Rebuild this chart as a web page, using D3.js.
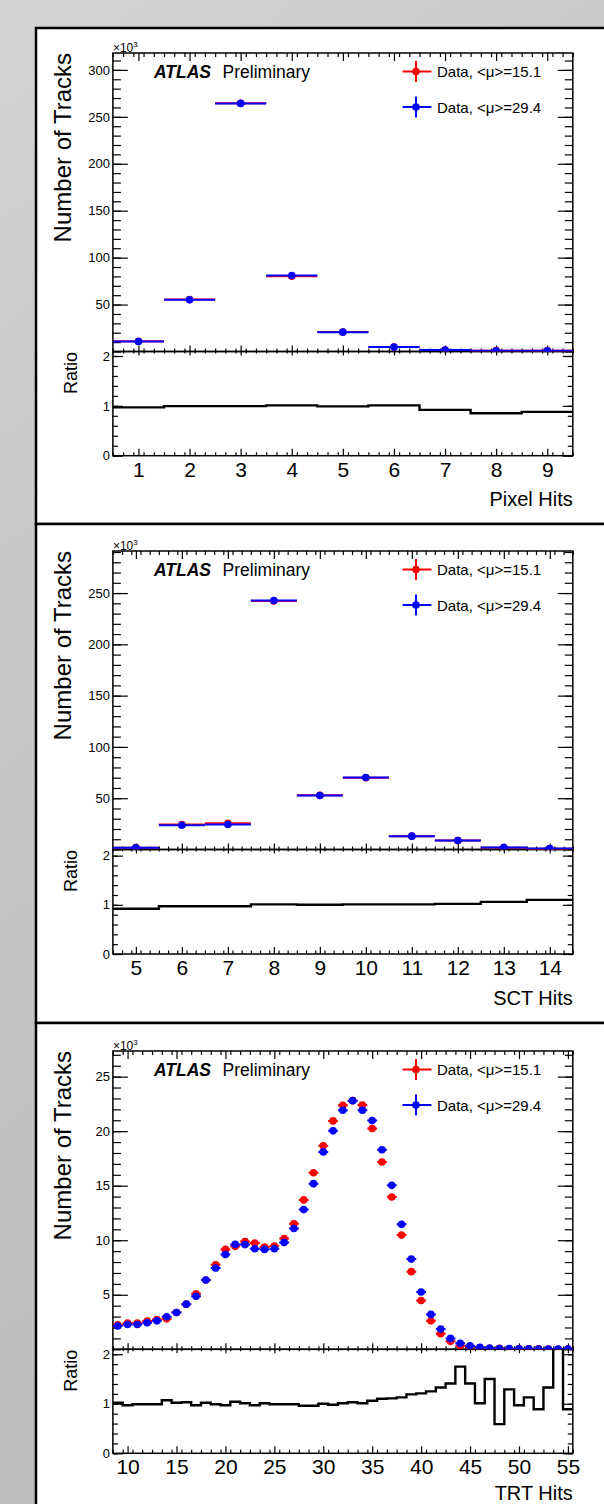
<!DOCTYPE html>
<html>
<head>
<meta charset="utf-8">
<script src="https://cdn.jsdelivr.net/npm/d3@7"></script>
<style>
  body { margin: 0; background: #c8c8c8; }
  svg { display: block; font-family: "Liberation Sans", Arial, Helvetica, sans-serif; }
</style>
</head>
<body>
<div id="container"></div>
<script>
/* DATA  (track counts in units of 10^3) */
const legendLabels = ["Data, <\u03bc>=15.1", "Data, <\u03bc>=29.4"];
const seriesColors = ["#ff0000", "#0000ff"];

const pixelHits   = [1, 2, 3, 4, 5, 6, 7, 8, 9];
const pixelLowMu  = [10.9, 55.3, 264.5, 80.2, 20.8, 4.7, 1.6, 0.9, 0.9];
const pixelHighMu = [10.6, 55.1, 264.3, 80.9, 20.6, 4.7, 1.5, 0.8, 0.8];
const pixelRatio  = [0.97, 0.995, 0.995, 1.01, 0.99, 1.01, 0.92, 0.85, 0.88];
const pixelYTicks = [50, 100, 150, 200, 250, 300];

const sctHits   = [5, 6, 7, 8, 9, 10, 11, 12, 13, 14];
const sctLowMu  = [1.8, 24.3, 25.6, 242.3, 52.8, 70.0, 13.0, 8.7, 1.8, 0.8];
const sctHighMu = [1.6, 23.7, 24.4, 242.7, 52.6, 70.2, 13.0, 8.8, 1.9, 0.9];
const sctRatio  = [0.92, 0.97, 0.97, 1.01, 1.0, 1.01, 1.01, 1.02, 1.06, 1.10];
const sctYTicks = [50, 100, 150, 200, 250];

const trtHits = [9, 10, 11, 12, 13, 14, 15, 16, 17, 18, 19, 20, 21, 22, 23, 24, 25, 26,
  27, 28, 29, 30, 31, 32, 33, 34, 35, 36, 37, 38, 39, 40, 41, 42, 43, 44, 45, 46, 47, 48,
  49, 50, 51, 52, 53, 54, 55];
const trtLowMu = [2.25, 2.41, 2.40, 2.60, 2.73, 2.79, 3.38, 4.14, 5.10, 6.36, 7.75, 9.16,
  9.44, 9.89, 9.74, 9.38, 9.47, 10.15, 11.5, 13.7, 16.19, 18.66, 20.94, 22.37, 22.8, 22.4,
  20.24, 17.17, 13.97, 10.47, 7.12, 4.47, 2.61, 1.43, 0.73, 0.33, 0.22, 0.14, 0.08, 0.10,
  0.05, 0.05, 0.035, 0.035, 0.022, 0.01, 0.022];
const trtHighMu = [2.13, 2.28, 2.28, 2.43, 2.61, 2.98, 3.38, 4.14, 4.87, 6.36, 7.45, 8.70,
  9.62, 9.60, 9.22, 9.16, 9.22, 9.80, 11.07, 12.81, 15.19, 18.1, 20.03, 21.92, 22.8, 21.92,
  20.97, 18.29, 15.03, 11.47, 8.27, 5.26, 3.20, 1.85, 1.00, 0.55, 0.32, 0.18, 0.12, 0.08,
  0.06, 0.05, 0.04, 0.03, 0.03, 0.02, 0.02];
const trtRatio = [1.02, 0.97, 0.99, 0.99, 0.99, 1.07, 1.02, 1.03, 0.97, 1.02, 0.99, 0.97,
  1.04, 1.01, 0.97, 1.01, 0.99, 0.99, 0.99, 0.96, 0.96, 1.0, 0.98, 1.01, 1.03, 1.01, 1.06,
  1.10, 1.11, 1.13, 1.19, 1.21, 1.25, 1.33, 1.41, 1.75, 1.41, 1.01, 1.5, 0.59, 1.29, 0.97,
  1.13, 0.89, 1.33, 2.5, 0.89];
const trtXTicks = [10, 15, 20, 25, 30, 35, 40, 45, 50, 55];
const trtYTicks = [5, 10, 15, 20, 25];

const ratioTicks = [0, 1, 2];

/* LAYOUT */
const width = 604, height = 1504;
const left = 112.9, right = 572.8;

const panels = [
  {x: pixelHits, low: pixelLowMu, high: pixelHighMu, ratio: pixelRatio, title: "Pixel Hits",
   xDomain: [0.5, 9.5], xMajor: pixelHits, xMinor: 0.2, yMax: 318, yMajor: pixelYTicks, yMinor: 10,
   rMax: 2.09, box: [28, 524], top: 53, split: 351.5, bottom: 455.7, titleY: 506},
  {x: sctHits, low: sctLowMu, high: sctHighMu, ratio: sctRatio, title: "SCT Hits",
   xDomain: [4.5, 14.5], xMajor: sctHits, xMinor: 0.2, yMax: 291, yMajor: sctYTicks, yMinor: 10,
   rMax: 2.125, box: [524, 1023], top: 551, split: 849.5, bottom: 954, titleY: 1005},
  {x: trtHits, low: trtLowMu, high: trtHighMu, ratio: trtRatio, title: "TRT Hits",
   xDomain: [8.5, 55.5], xMajor: trtXTicks, xMinor: 1, yMax: 27.35, yMajor: trtYTicks, yMinor: 1,
   rMax: 2.1, box: [1023, 1530], top: 1051, split: 1349.3, bottom: 1453.3, titleY: 1500}
];

const svg = d3.select("#container").append("svg")
  .attr("width", width)
  .attr("height", height);

const defs = svg.append("defs");
const bg = defs.append("linearGradient").attr("id", "bg")
  .attr("x1", 0).attr("y1", 0).attr("x2", 0.3).attr("y2", 1);
bg.append("stop").attr("offset", "0%").attr("stop-color", "#d3d3d3");
bg.append("stop").attr("offset", "50%").attr("stop-color", "#c4c4c4");
bg.append("stop").attr("offset", "100%").attr("stop-color", "#bcbcbc");
svg.append("rect").attr("width", width).attr("height", height).attr("fill", "url(#bg)");

function styleAxis(g) {
  g.select(".domain").remove();
  g.attr("font-family", null).attr("font-size", null);
  g.selectAll("line").attr("stroke-width", 1.2);
}

panels.forEach((p, pi) => {
  // panel box
  svg.append("rect")
    .attr("x", 36).attr("y", p.box[0])
    .attr("width", 620).attr("height", p.box[1] - p.box[0])
    .attr("fill", "#fff").attr("stroke", "#000").attr("stroke-width", 2.5);

  const xScale = d3.scaleLinear().domain(p.xDomain).range([left, right]);
  const yScale = d3.scaleLinear().domain([0, p.yMax]).range([p.split, p.top]);
  const rScale = d3.scaleLinear().domain([0, p.rMax]).range([p.bottom, p.split]);

  const xMinorVals = d3.range(p.xDomain[0], p.xDomain[1] + 1e-6, p.xMinor)
    .map(v => Math.round(v * 100) / 100);
  const xMajorVals = p.xMajor;
  const yMinorVals = d3.range(0, p.yMax, p.yMinor);
  const rMinorVals = d3.range(0, p.rMax, 0.2);

  const g = svg.append("g");

  // clip paths
  const clipU = "clipU" + pi, clipR = "clipR" + pi;
  defs.append("clipPath").attr("id", clipU).append("rect")
    .attr("x", left).attr("y", p.top).attr("width", right - left).attr("height", p.split - p.top);
  defs.append("clipPath").attr("id", clipR).append("rect")
    .attr("x", left).attr("y", p.split).attr("width", right - left).attr("height", p.bottom - p.split);

  /* AXES - upper pad */
  const ax = [];
  const yLab = g.append("g").attr("transform", `translate(${left},0)`)
    .call(d3.axisLeft(yScale).tickValues(p.yMajor).tickSizeInner(-15).tickSizeOuter(0)
      .tickPadding(3).tickFormat(d3.format("d")));
  ax.push(yLab);
  ax.push(g.append("g").attr("transform", `translate(${left},0)`)
    .call(d3.axisLeft(yScale).tickValues(yMinorVals).tickSizeInner(-8).tickSizeOuter(0).tickFormat("")));
  ax.push(g.append("g").attr("transform", `translate(${right},0)`)
    .call(d3.axisRight(yScale).tickValues(p.yMajor).tickSizeInner(-15).tickSizeOuter(0).tickFormat("")));
  ax.push(g.append("g").attr("transform", `translate(${right},0)`)
    .call(d3.axisRight(yScale).tickValues(yMinorVals).tickSizeInner(-8).tickSizeOuter(0).tickFormat("")));
  ax.push(g.append("g").attr("transform", `translate(0,${p.top})`)
    .call(d3.axisTop(xScale).tickValues(xMajorVals).tickSizeInner(-8).tickSizeOuter(0).tickFormat("")));
  ax.push(g.append("g").attr("transform", `translate(0,${p.top})`)
    .call(d3.axisTop(xScale).tickValues(xMinorVals).tickSizeInner(-4).tickSizeOuter(0).tickFormat("")));
  ax.push(g.append("g").attr("transform", `translate(0,${p.split})`)
    .call(d3.axisBottom(xScale).tickValues(xMajorVals).tickSizeInner(-6).tickSizeOuter(0).tickFormat("")));
  ax.push(g.append("g").attr("transform", `translate(0,${p.split})`)
    .call(d3.axisBottom(xScale).tickValues(xMinorVals).tickSizeInner(-3).tickSizeOuter(0).tickFormat("")));

  /* AXES - ratio pad */
  const rLab = g.append("g").attr("transform", `translate(${left},0)`)
    .call(d3.axisLeft(rScale).tickValues(ratioTicks).tickSizeInner(-10).tickSizeOuter(0)
      .tickPadding(3).tickFormat(d3.format("d")));
  ax.push(rLab);
  ax.push(g.append("g").attr("transform", `translate(${left},0)`)
    .call(d3.axisLeft(rScale).tickValues(rMinorVals).tickSizeInner(-5).tickSizeOuter(0).tickFormat("")));
  ax.push(g.append("g").attr("transform", `translate(${right},0)`)
    .call(d3.axisRight(rScale).tickValues(ratioTicks).tickSizeInner(-10).tickSizeOuter(0).tickFormat("")));
  ax.push(g.append("g").attr("transform", `translate(${right},0)`)
    .call(d3.axisRight(rScale).tickValues(rMinorVals).tickSizeInner(-5).tickSizeOuter(0).tickFormat("")));
  ax.push(g.append("g").attr("transform", `translate(0,${p.split})`)
    .call(d3.axisTop(xScale).tickValues(xMajorVals).tickSizeInner(-4).tickSizeOuter(0).tickFormat("")));
  ax.push(g.append("g").attr("transform", `translate(0,${p.split})`)
    .call(d3.axisTop(xScale).tickValues(xMinorVals).tickSizeInner(-2).tickSizeOuter(0).tickFormat("")));
  const xLab = g.append("g").attr("transform", `translate(0,${p.bottom})`)
    .call(d3.axisBottom(xScale).tickValues(xMajorVals).tickSizeInner(-7).tickSizeOuter(0)
      .tickPadding(6).tickFormat(d3.format("d")));
  ax.push(xLab);
  ax.push(g.append("g").attr("transform", `translate(0,${p.bottom})`)
    .call(d3.axisBottom(xScale).tickValues(xMinorVals).tickSizeInner(-3.5).tickSizeOuter(0).tickFormat("")));

  ax.forEach(styleAxis);
  yLab.selectAll("text").attr("font-size", 13);
  rLab.selectAll("text").attr("font-size", 13);
  xLab.selectAll("text").attr("font-size", 21);

  // frames
  g.append("rect").attr("x", left).attr("y", p.top)
    .attr("width", right - left).attr("height", p.split - p.top)
    .attr("fill", "none").attr("stroke", "#000").attr("stroke-width", 1.5);
  g.append("rect").attr("x", left).attr("y", p.split)
    .attr("width", right - left).attr("height", p.bottom - p.split)
    .attr("fill", "none").attr("stroke", "#000").attr("stroke-width", 1.5);

  /* DATA POINTS */
  const pts = g.append("g").attr("clip-path", `url(#${clipU})`);
  [p.low, p.high].forEach((vals, si) => {
    const s = pts.append("g");
    s.selectAll("line").data(p.x).join("line")
      .attr("x1", d => xScale(d - 0.5))
      .attr("x2", d => xScale(d + 0.5))
      .attr("y1", (d, i) => yScale(vals[i]))
      .attr("y2", (d, i) => yScale(vals[i]))
      .attr("stroke", seriesColors[si]).attr("stroke-width", 2);
    s.selectAll("circle").data(p.x).join("circle")
      .attr("cx", d => xScale(d))
      .attr("cy", (d, i) => yScale(vals[i]))
      .attr("r", 3.8)
      .attr("fill", seriesColors[si]);
  });

  /* RATIO */
  const steps = p.x.map((d, i) => [d - 0.5, p.ratio[i]]);
  steps.push([p.x[p.x.length - 1] + 0.5, p.ratio[p.ratio.length - 1]]);
  g.append("path")
    .attr("clip-path", `url(#${clipR})`)
    .attr("d", d3.line().x(d => xScale(d[0])).y(d => rScale(d[1])).curve(d3.curveStepAfter)(steps))
    .attr("fill", "none").attr("stroke", "#000").attr("stroke-width", 2.4);

  /* TEXTS */
  g.append("text")
    .attr("transform", `translate(71.3,${p.top}) rotate(-90)`)
    .attr("text-anchor", "end").attr("font-size", 24)
    .text("Number of Tracks");
  g.append("text")
    .attr("transform", `translate(77,${p.split + 0.5}) rotate(-90)`)
    .attr("text-anchor", "end").attr("font-size", 18)
    .text("Ratio");
  g.append("text")
    .attr("x", right).attr("y", p.titleY)
    .attr("text-anchor", "end").attr("font-size", 20)
    .text(p.title);
  const exp = g.append("text").attr("x", left).attr("y", p.top - 1.5).attr("font-size", 12);
  exp.append("tspan").text("\u00d710");
  exp.append("tspan").attr("font-size", 8).attr("dy", -5).text("3");

  g.append("text").attr("x", 154).attr("y", p.top + 24.5)
    .attr("font-size", 17.5).attr("font-weight", "bold").attr("font-style", "italic")
    .text("ATLAS");
  g.append("text").attr("x", 222.6).attr("y", p.top + 24.5)
    .attr("font-size", 17.5)
    .text("Preliminary");

  /* LEGEND */
  legendLabels.forEach((lab, i) => {
    const ly = p.top + 18.5 + i * 35.5;
    const lg = g.append("g");
    lg.append("line").attr("x1", 402.5).attr("x2", 431.4).attr("y1", ly).attr("y2", ly)
      .attr("stroke", seriesColors[i]).attr("stroke-width", 2);
    lg.append("line").attr("x1", 416).attr("x2", 416).attr("y1", ly - 10.5).attr("y2", ly + 10.5)
      .attr("stroke", seriesColors[i]).attr("stroke-width", 2);
    lg.append("circle").attr("cx", 416).attr("cy", ly).attr("r", 3.8).attr("fill", seriesColors[i]);
    lg.append("text").attr("x", 437).attr("y", ly + 5.5).attr("font-size", 15).text(lab);
  });
});
</script>
</body>
</html>
